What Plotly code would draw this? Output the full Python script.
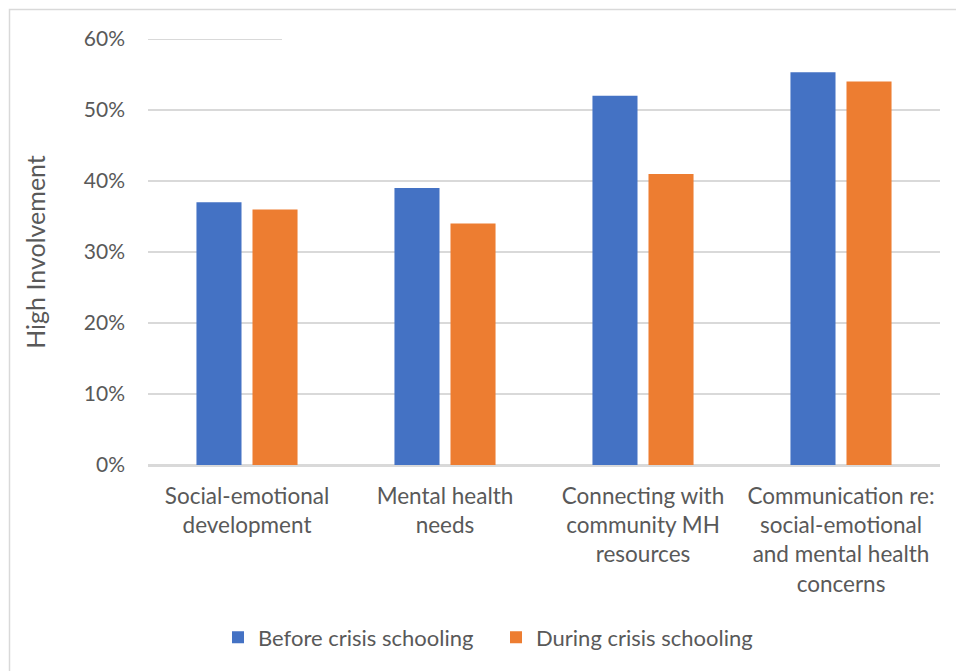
import plotly.graph_objects as go

categories = [
    "Social-emotional<br>development",
    "Mental health<br>needs",
    "Connecting with<br>community MH<br>resources",
    "Communication re:<br>social-emotional<br>and mental health<br>concerns",
]
before = [37, 39, 52, 55.3]
during = [36, 34, 41, 54]
series_names = ["Before crisis schooling", "During crisis schooling"]
colors = ["#4472C4", "#ED7D31"]

FONT = "Lato"
TXT = "#595959"
GRID = "#d9d9d9"

fig = go.Figure()
for name, vals, col in zip(series_names, [before, during], colors):
    fig.add_trace(go.Bar(
        x=categories, y=vals, name=name,
        marker=dict(color=col, line=dict(width=0)),
    ))

W, H = 956, 671
L, R, T, B = 148, 16, 39, 206
pw, ph = W - L - R, H - T - B
cut = (282 - L) / pw  # the visible part of the top gridline

fig.update_layout(
    width=W, height=H,
    margin=dict(l=L, r=R, t=T, b=B, pad=0),
    paper_bgcolor="white", plot_bgcolor="white",
    barmode="group", bargap=0.434, bargroupgap=0.196,
    font=dict(family=FONT, color=TXT, size=20),
    showlegend=True,
    legend=dict(
        orientation="h", x=0.4394, xanchor="center", y=-0.405, yanchor="middle",
        font=dict(family=FONT, size=22, color=TXT),
        traceorder="normal", entrywidth=233, entrywidthmode="pixels",
    ),
    xaxis=dict(
        showgrid=False, showline=True, linecolor=GRID, linewidth=1.5,
        ticks="", tickfont=dict(family=FONT, size=22.5, color=TXT),
        ticklabelstandoff=10,
    ),
    yaxis=dict(
        range=[0, 60], dtick=10, ticksuffix="%",
        showgrid=True, gridcolor=GRID, gridwidth=1.5,
        zeroline=True, zerolinecolor=GRID, zerolinewidth=1.5,
        showline=False, ticks="",
        tickfont=dict(family=FONT, size=21, color=TXT),
        ticklabelstandoff=22,
        title=dict(text="High Involvement", font=dict(family=FONT, size=25, color=TXT), standoff=31),
    ),
    shapes=[
        # chart border
        dict(type="rect", xref="paper", yref="paper",
             x0=(9.5 - L) / pw, x1=(W + 20 - L) / pw,
             y0=-(H + 20 - T - ph) / ph, y1=(H - B - 9.5) / ph,
             line=dict(color=GRID, width=1.5), fillcolor="rgba(0,0,0,0)", layer="below"),
        # hide most of the 60% gridline as in the reference
        dict(type="rect", xref="paper", yref="y",
             x0=cut, x1=1.02, y0=59.6, y1=60.4,
             fillcolor="white", line=dict(width=0), layer="above"),
        # visible left part of the 60% gridline
        dict(type="line", xref="paper", yref="y",
             x0=0, x1=cut, y0=60, y1=60,
             line=dict(color=GRID, width=2), layer="above"),
    ],
)

fig.write_html("out.html")
